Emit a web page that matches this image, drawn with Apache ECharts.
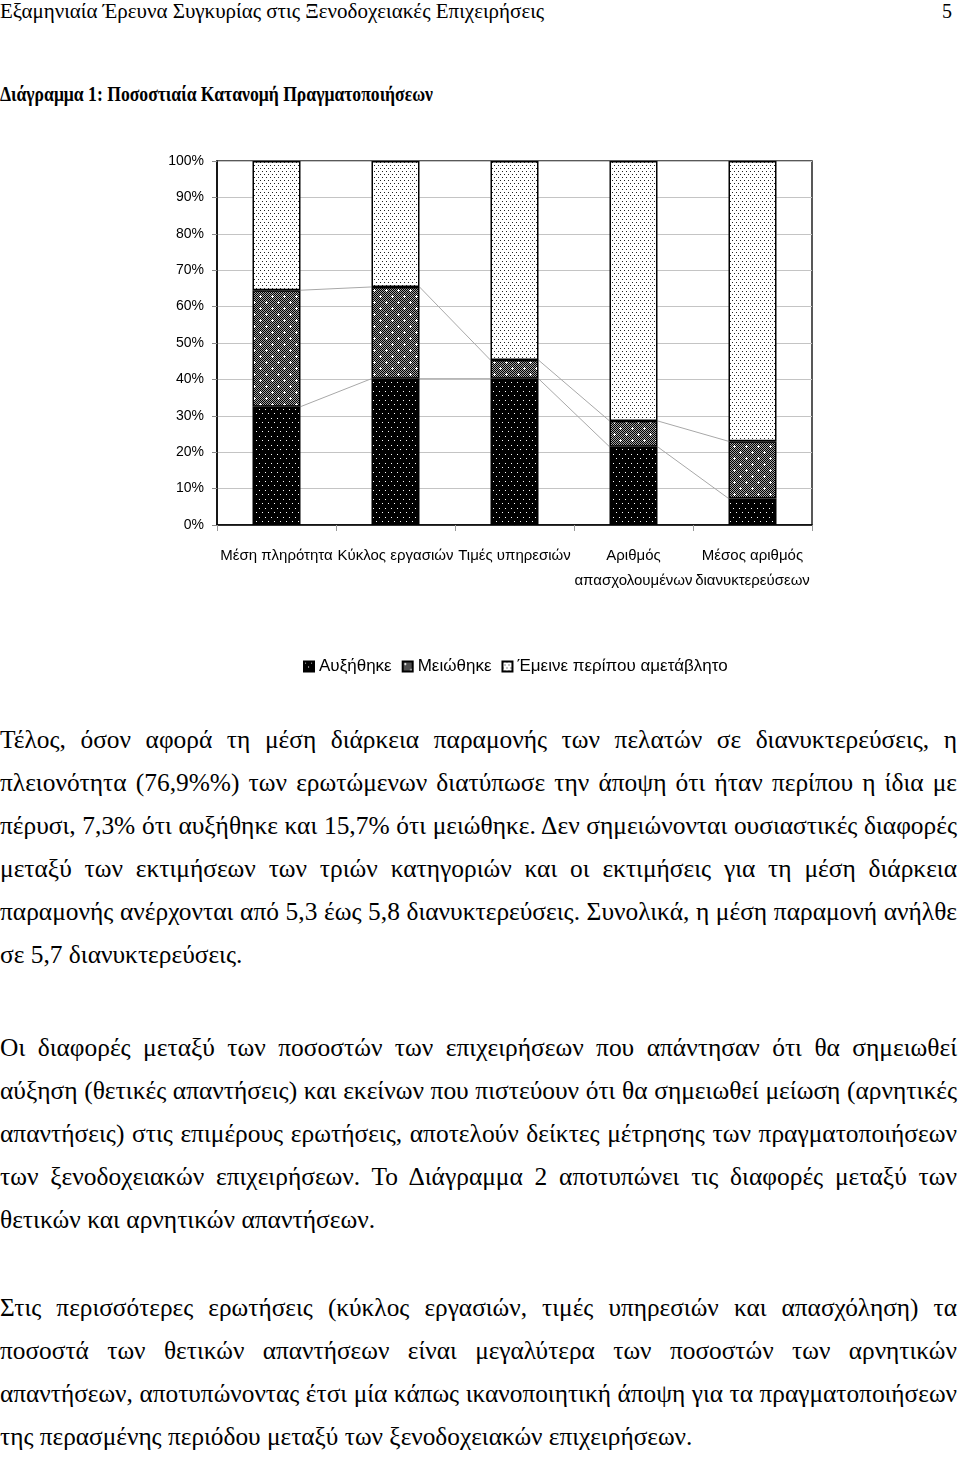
<!DOCTYPE html>
<html>
<head>
<meta charset="utf-8">
<script src="https://cdn.jsdelivr.net/npm/echarts@6/dist/echarts.min.js"></script>
<style>
html,body{margin:0;padding:0;background:#fff;}
body{width:960px;height:1460px;position:relative;overflow:hidden;font-family:'Liberation Serif','Times New Roman',serif;color:#000;}
.abs{position:absolute;white-space:nowrap;transform-origin:0 0;}
.para{position:absolute;left:0;width:957px;transform-origin:0 0;}
.line{display:block;width:957px;height:43px;line-height:43px;text-align:justify;text-align-last:justify;white-space:nowrap;overflow:visible;}
.line.last{text-align-last:left;}
#chart{position:absolute;left:0;top:120px;width:960px;height:590px;}
</style>
</head>
<body>
<div id="header" class="abs" style="left:0;top:0;">Εξαμηνιαία Έρευνα Συγκυρίας στις Ξενοδοχειακές Επιχειρήσεις</div>
<div id="pagenum" class="abs" style="left:942px;top:0;">5</div>
<div id="title" class="abs" style="left:0;top:80px;font-weight:bold;">Διάγραμμα 1: Ποσοστιαία Κατανομή Πραγματοποιήσεων</div>

<div id="chart"></div>

<div class="para" id="p1" style="top:718px;">
<div class="line">Τέλος, όσον αφορά τη μέση διάρκεια παραμονής των πελατών σε διανυκτερεύσεις, η</div>
<div class="line">πλειονότητα (76,9%%) των ερωτώμενων διατύπωσε την άποψη ότι ήταν περίπου η ίδια με</div>
<div class="line">πέρυσι, 7,3% ότι αυξήθηκε και 15,7% ότι μειώθηκε. Δεν σημειώνονται ουσιαστικές διαφορές</div>
<div class="line">μεταξύ των εκτιμήσεων των τριών κατηγοριών και οι εκτιμήσεις για τη μέση διάρκεια</div>
<div class="line">παραμονής ανέρχονται από 5,3 έως 5,8 διανυκτερεύσεις. Συνολικά, η μέση παραμονή ανήλθε</div>
<div class="line last">σε 5,7 διανυκτερεύσεις.</div>
</div>

<div class="para" id="p2" style="top:1026px;">
<div class="line">Οι διαφορές μεταξύ των ποσοστών των επιχειρήσεων που απάντησαν ότι θα σημειωθεί</div>
<div class="line">αύξηση (θετικές απαντήσεις) και εκείνων που πιστεύουν ότι θα σημειωθεί μείωση (αρνητικές</div>
<div class="line">απαντήσεις) στις επιμέρους ερωτήσεις, αποτελούν δείκτες μέτρησης των πραγματοποιήσεων</div>
<div class="line">των ξενοδοχειακών επιχειρήσεων. Το Διάγραμμα 2 αποτυπώνει τις διαφορές μεταξύ των</div>
<div class="line last">θετικών και αρνητικών απαντήσεων.</div>
</div>

<div class="para" id="p3" style="top:1286px;">
<div class="line">Στις περισσότερες ερωτήσεις (κύκλος εργασιών, τιμές υπηρεσιών και απασχόληση) τα</div>
<div class="line">ποσοστά των θετικών απαντήσεων είναι μεγαλύτερα των ποσοστών των αρνητικών</div>
<div class="line">απαντήσεων, αποτυπώνοντας έτσι μία κάπως ικανοποιητική άποψη για τα πραγματοποιήσεων</div>
<div class="line last">της περασμένης περιόδου μεταξύ των ξενοδοχειακών επιχειρήσεων.</div>
</div>

<script>
// ---------- DATA ----------
const categories = ['Μέση πληρότητα', 'Κύκλος εργασιών', 'Τιμές υπηρεσιών', 'Αριθμός\nαπασχολουμένων', 'Μέσος αριθμός\nδιανυκτερεύσεων'];
const seriesNames = ['Αυξήθηκε', 'Μειώθηκε', 'Έμεινε περίπου αμετάβλητο'];
const increased = [32.5, 40.2, 40.2, 21.5, 7.3];
const decreased = [32.0, 25.2, 5.1, 7.1, 15.7];
const unchanged = [35.5, 34.6, 54.7, 71.4, 77.0];
const yTickValues = [0, 10, 20, 30, 40, 50, 60, 70, 80, 90, 100];

// ---------- TEXT FITTING ----------
(function(){
  const c = document.createElement('canvas').getContext('2d');
  const serif = "'Liberation Serif','Times New Roman',serif";
  function w(text, font){ c.font = font; return c.measureText(text).width; }
  function fitSingle(el, fs, bold, targetW, centerY){
    el.style.fontSize = fs + 'px';
    const nat = w(el.textContent, (bold ? 'bold ' : '') + fs + 'px ' + serif);
    const s = Math.min(1.05, targetW / nat);
    el.style.transform = 'scaleX(' + s + ')';
    el.style.top = (centerY - 0.68 * fs) + 'px';
  }
  fitSingle(document.getElementById('header'), 20, false, 553, 14);
  const pn = document.getElementById('pagenum');
  pn.style.fontSize = '20px'; pn.style.top = (14 - 0.68 * 20) + 'px';
  fitSingle(document.getElementById('title'), 21, true, 433, 96);

  const F = 22 * 250 / w('σε 5,7 διανυκτερεύσεις.', '22px ' + serif);
  function fitPara(id, lastW){
    const el = document.getElementById(id);
    el.style.fontSize = F + 'px';
    const lines = el.querySelectorAll('.line');
    const font = F + 'px ' + serif;
    let maxW = 0;
    lines.forEach(function(l){ if (!l.classList.contains('last')) maxW = Math.max(maxW, w(l.textContent, font)); });
    let s = lastW / w(lines[lines.length - 1].textContent, font);
    s = Math.min(s, 955 / maxW, 1.05);
    el.style.transform = 'scaleX(' + s + ')';
    el.style.width = (957 / s) + 'px';
    lines.forEach(function(l){ l.style.width = (957 / s) + 'px'; });
  }
  fitPara('p1', 250);
  fitPara('p2', 375);
  fitPara('p3', 697);
})();

// ---------- PATTERNS ----------
function makePattern(w, h, draw){
  const cv = document.createElement('canvas');
  cv.width = w; cv.height = h;
  const g = cv.getContext('2d');
  draw(g);
  return { image: cv, repeat: 'repeat' };
}
const patInc = makePattern(6, 9, function(g){
  g.fillStyle = '#000'; g.fillRect(0, 0, 6, 9);
  g.fillStyle = '#fff'; g.fillRect(1, 1, 1, 1); g.fillRect(4, 5, 1, 1);
});
const patDec = makePattern(12, 12, function(g){
  for (let y = 0; y < 12; y++) for (let x = 0; x < 12; x++) {
    g.fillStyle = ((x + y) % 2 === 0) ? '#000' : '#a0a0a0';
    g.fillRect(x, y, 1, 1);
  }
  g.fillStyle = '#fff';
  [[2, 2], [8, 8]].forEach(function(p){
    g.fillRect(p[0], p[1], 1, 1);
    g.fillRect(p[0] - 1, p[1], 1, 1); g.fillRect(p[0] + 1, p[1], 1, 1);
    g.fillRect(p[0], p[1] - 1, 1, 1); g.fillRect(p[0], p[1] + 1, 1, 1);
  });
});
const patSame = makePattern(4, 6, function(g){
  g.fillStyle = '#fff'; g.fillRect(0, 0, 4, 6);
  g.fillStyle = '#222'; g.fillRect(0, 0, 1, 1); g.fillRect(2, 3, 1, 1);
});

// ---------- SERIES LINES (connect segment tops between adjacent bars) ----------
const BAR_W = 48;
function seriesLineData(values) {
  const out = [];
  for (let i = 0; i < values.length - 1; i++) out.push([i, values[i], values[i + 1]]);
  return out;
}
const cumInc = increased.slice();
const cumDec = increased.map(function(v, i){ return v + decreased[i]; });

function seriesLine(values) {
  return {
    type: 'custom',
    silent: true,
    z: 1,
    data: seriesLineData(values),
    encode: { x: 0, y: [1, 2] },
    renderItem: function(params, api){
      const i = api.value(0);
      const p1 = api.coord([i, api.value(1)]);
      const p2 = api.coord([i + 1, api.value(2)]);
      return {
        type: 'line',
        shape: { x1: p1[0] + BAR_W / 2, y1: p1[1], x2: p2[0] - BAR_W / 2, y2: p2[1] },
        style: { stroke: '#a8a8a8', lineWidth: 1 }
      };
    }
  };
}

const sans = "'Liberation Sans',Arial,sans-serif";
const chart = echarts.init(document.getElementById('chart'), null, { renderer: 'canvas' });
const barBase = { type: 'bar', stack: 'total', barWidth: BAR_W, z: 3 };
chart.setOption({
  animation: false,
  grid: { left: 217, right: 148, top: 41, height: 364, show: true, borderColor: '#222', borderWidth: 1.5, backgroundColor: 'transparent' },
  legend: {
    left: 298, top: 533,
    itemWidth: 10, itemHeight: 10, itemGap: 10,
    icon: 'rect',
    textStyle: { fontFamily: sans, fontSize: 17, color: '#000' },
    data: seriesNames
  },
  xAxis: {
    type: 'category',
    data: categories,
    axisLine: { lineStyle: { color: '#000', width: 1.5 } },
    axisTick: { show: true, length: 6, lineStyle: { color: '#999' } },
    axisLabel: { fontFamily: sans, fontSize: 15, color: '#000', margin: 18, lineHeight: 25, interval: 0 }
  },
  yAxis: {
    type: 'value', min: 0, max: 100, interval: 10,
    axisLine: { show: true, lineStyle: { color: '#000', width: 1.5 } },
    axisTick: { show: true, length: 5, lineStyle: { color: '#888' } },
    axisLabel: { fontFamily: sans, fontSize: 14, color: '#000', margin: 13,
      formatter: function(v){ return yTickValues.indexOf(v) >= 0 ? v + '%' : ''; } },
    splitLine: { lineStyle: { color: '#c4c4c4', width: 1 } }
  },
  series: [
    Object.assign({}, barBase, { name: seriesNames[0], data: increased, itemStyle: { color: patInc, borderColor: '#000', borderWidth: 1.5 } }),
    Object.assign({}, barBase, { name: seriesNames[1], data: decreased, itemStyle: { color: patDec, borderColor: '#000', borderWidth: 1.5 } }),
    Object.assign({}, barBase, { name: seriesNames[2], data: unchanged, itemStyle: { color: patSame, borderColor: '#000', borderWidth: 1.5 } }),
    seriesLine(cumInc),
    seriesLine(cumDec)
  ]
});
</script>
</body>
</html>
